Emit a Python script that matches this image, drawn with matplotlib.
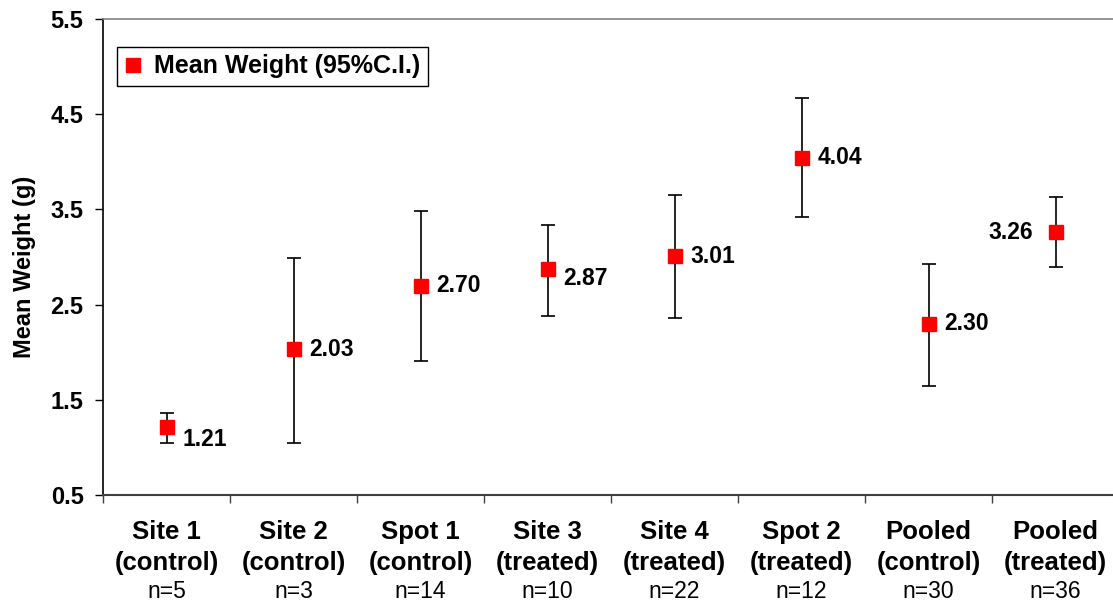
import matplotlib
matplotlib.use("Agg")
import matplotlib.pyplot as plt
import matplotlib.transforms as mtransforms
from matplotlib.lines import Line2D

# ---- data ----
sites = ["Site 1", "Site 2", "Spot 1", "Site 3", "Site 4", "Spot 2", "Pooled", "Pooled"]
groups = ["(control)", "(control)", "(control)", "(treated)", "(treated)", "(treated)", "(control)", "(treated)"]
n_counts = [5, 3, 14, 10, 22, 12, 30, 36]
means = [1.21, 2.03, 2.70, 2.87, 3.01, 4.04, 2.30, 3.26]
ci_upper = [1.36, 2.99, 3.48, 3.34, 3.65, 4.665, 2.93, 3.63]
ci_lower = [1.045, 1.05, 1.91, 2.38, 2.36, 3.42, 1.65, 2.89]
y_ticks = [0.5, 1.5, 2.5, 3.5, 4.5, 5.5]

# label offsets in points (style only)
label_offsets = {0: (11.5, -9, "left"), 3: (11.5, -6.5, "left"), 7: (-16, 0, "right")}

plt.rcParams["font.family"] = ["Liberation Sans", "DejaVu Sans"]

fig = plt.figure(figsize=(11.13, 6.03), dpi=100)
W, H = 1113, 603
ax = fig.add_axes([103 / W, (H - 495) / H, (1119 - 103) / W, (495 - 19) / H])

x = list(range(1, len(means) + 1))
yerr = [[m - lo for m, lo in zip(means, ci_lower)], [hi - m for m, hi in zip(means, ci_upper)]]
ax.errorbar(x, means, yerr=yerr, fmt="none", ecolor="black", elinewidth=1.2,
            capsize=4.7, capthick=1.2, zorder=2)
ax.plot(x, means, linestyle="none", marker="s", markersize=10.5, color="#FF0000",
        markeredgecolor="#FF0000", zorder=3)

for i, (xi, m) in enumerate(zip(x, means)):
    dx, dy, ha = label_offsets.get(i, (11.5, 0, "left"))
    ax.annotate(f"{m:.2f}", (xi, m), xytext=(dx, dy), textcoords="offset points",
                ha=ha, va="center", fontsize=16.5, fontweight="bold", color="black")

ax.set_xlim(0.5, len(means) + 0.5)
ax.set_ylim(0.5, 5.5)
ax.set_yticks(y_ticks)
ax.set_yticklabels([f"{v:.1f}" for v in y_ticks], fontsize=17, fontweight="bold")
ax.set_xticks([k + 0.5 for k in range(len(means) + 1)])
ax.set_xticklabels([])
ax.tick_params(axis="y", direction="out", length=6, width=1, pad=8, colors="black")
ax.tick_params(axis="x", direction="out", length=6, width=1, color="#404040")

ax.spines["right"].set_visible(False)
ax.spines["top"].set_color("#808080")
ax.spines["top"].set_linewidth(1.2)
ax.spines["left"].set_color("black")
ax.spines["left"].set_linewidth(1.2)
ax.spines["bottom"].set_color("#404040")
ax.spines["bottom"].set_linewidth(1.5)

ax.set_ylabel("Mean Weight (g)", fontsize=17, fontweight="bold")
ax.yaxis.set_label_coords(-0.066, 0.48)

trans = mtransforms.blended_transform_factory(ax.transData, fig.transFigure)
for xi, s, g, n in zip(x, sites, groups, n_counts):
    ax.text(xi, 1 - 532 / H, s, transform=trans, ha="center", va="center",
            fontsize=18.5, fontweight="bold", clip_on=False)
    ax.text(xi, 1 - 563 / H, g, transform=trans, ha="center", va="center",
            fontsize=18.5, fontweight="bold", clip_on=False)
    ax.text(xi, 1 - 592 / H, f"n={n}", transform=trans, ha="center", va="center",
            fontsize=16.5, fontweight="normal", clip_on=False)

handle = Line2D([], [], linestyle="none", marker="s", markersize=10, color="#FF0000")
leg = ax.legend([handle], ["Mean Weight (95%C.I.)"], loc="upper left",
                bbox_to_anchor=((117 - 103) / 1016, (495 - 47) / 476),
                frameon=True, fancybox=False, shadow=False, framealpha=1,
                edgecolor="black", prop={"size": 18, "weight": "bold"},
                handlelength=0.7, handletextpad=0.5, borderpad=0.3, borderaxespad=0)
leg.get_frame().set_linewidth(1.0)

fig.savefig("out.png", dpi=100)
